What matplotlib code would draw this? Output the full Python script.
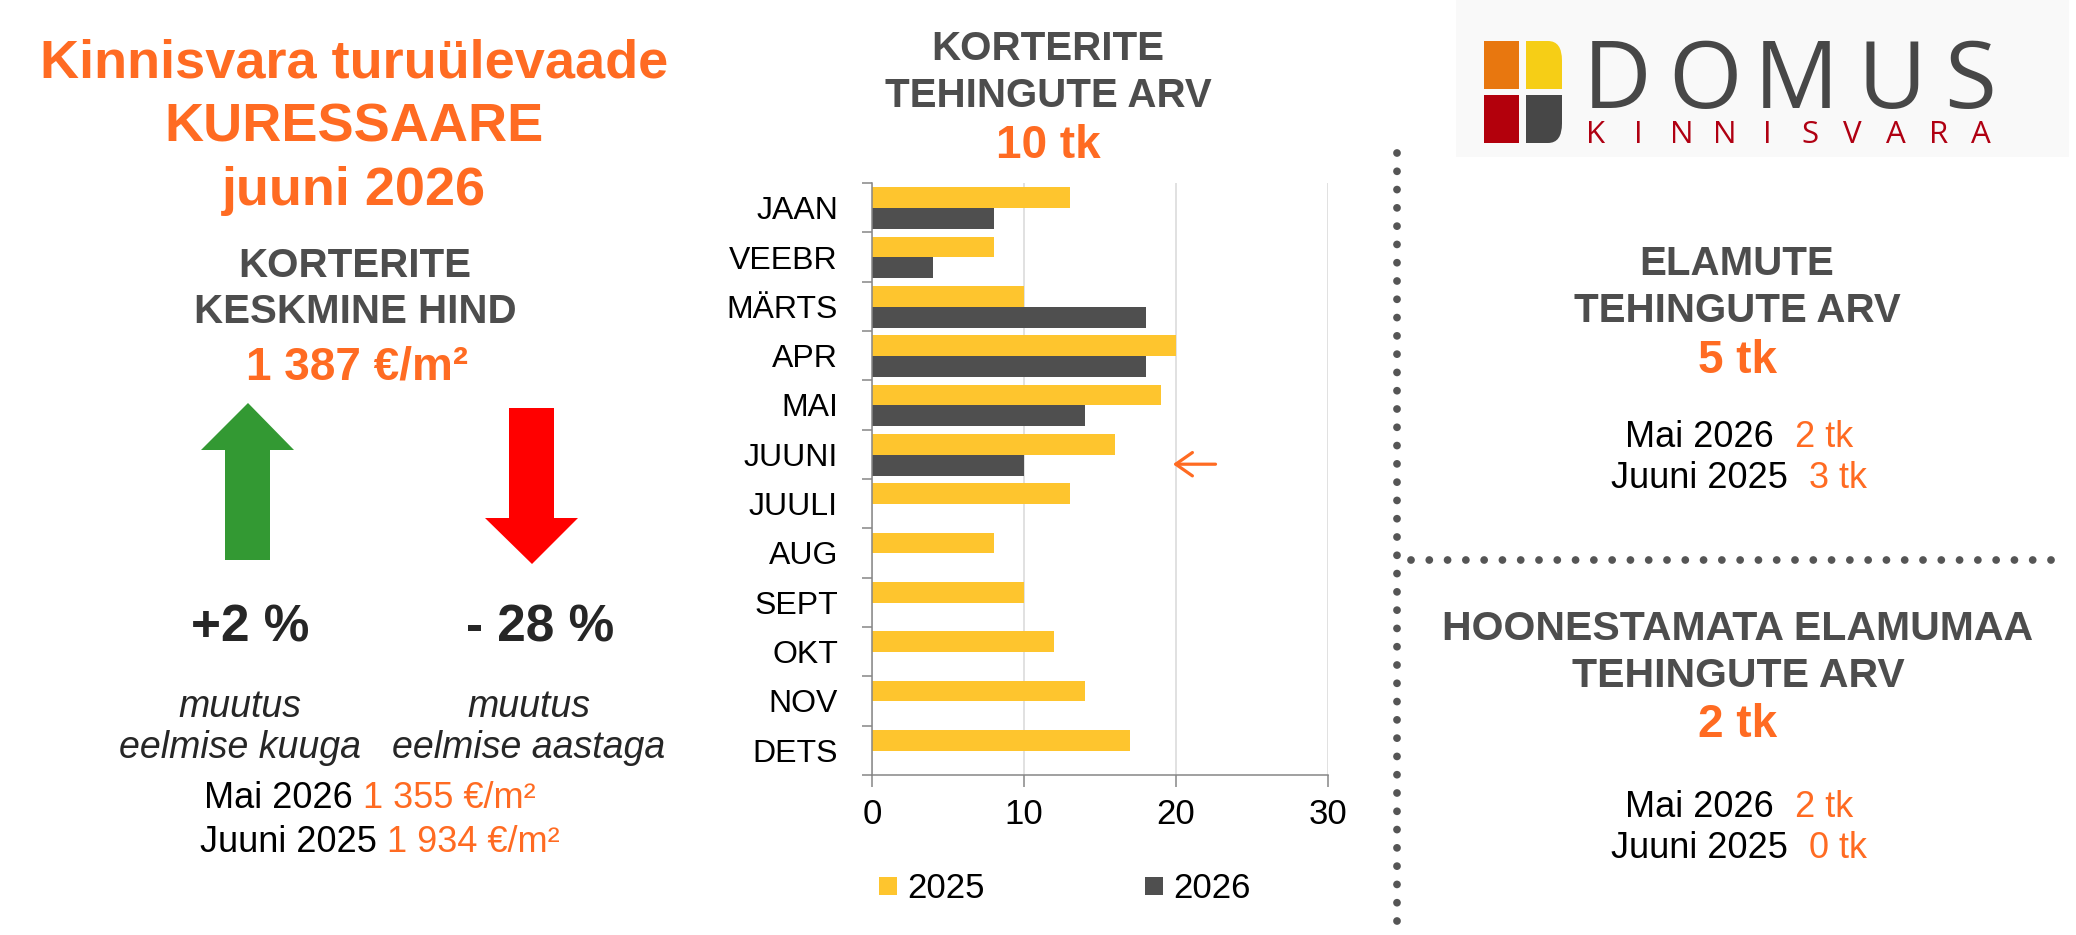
import matplotlib
matplotlib.use("Agg")
import matplotlib.pyplot as plt
from matplotlib.patches import Rectangle, Polygon, PathPatch
from matplotlib.path import Path
import numpy as np

plt.rcParams['font.family'] = ['Liberation Sans', 'DejaVu Sans']

months = ["JAAN", "VEEBR", "MÄRTS", "APR", "MAI", "JUUNI",
          "JUULI", "AUG", "SEPT", "OKT", "NOV", "DETS"]
deals_2025 = [13, 8, 10, 20, 19, 16, 13, 8, 10, 12, 14, 17]
deals_2026 = [8, 4, 18, 18, 14, 10]
series_names = ["2025", "2026"]

ORANGE = "#FF6B22"
GRAY = "#4D4D4D"
YELLOW = "#FEC52E"
DARK = "#4F4F4F"

W, H = 2076, 935
fig = plt.figure(figsize=(W / 100, H / 100), dpi=100)

# background layer in pixel coordinates
bg = fig.add_axes([0, 0, 1, 1])
bg.set_xlim(0, W)
bg.set_ylim(H, 0)
bg.axis("off")

renderer = fig.canvas.get_renderer()


def label(x, y, s, size, color=GRAY, weight="bold", style="normal", family=None):
    kw = {}
    if family:
        kw["family"] = family
    return bg.text(x, y, s, fontsize=size, color=color, weight=weight,
                   style=style, ha="center", va="baseline", **kw)


def mixed(x, y, parts, size, gap_em=0.3):
    texts = []
    for s, c in parts:
        t = bg.text(0, y, s, fontsize=size, color=c, ha="left", va="baseline")
        texts.append(t)
    widths = [t.get_window_extent(renderer).width for t in texts]
    gap = gap_em * size / 0.72
    total = sum(widths) + gap * (len(texts) - 1)
    cur = x - total / 2
    for t, w in zip(texts, widths):
        t.set_x(cur)
        cur += w + gap


# ---- left block
label(354, 78, "Kinnisvara turuülevaade", 39, ORANGE)
label(354, 142, "KURESSAARE", 39, ORANGE)
label(354, 205, "juuni 2026", 39, ORANGE)
label(355, 277, "KORTERITE", 29)
label(355, 323, "KESKMINE HIND", 29)
label(357, 380, "1 387 €/m²", 33, ORANGE)

green_arrow = [(248, 403), (294, 450), (270, 450), (270, 560), (225, 560),
               (225, 450), (201, 450)]
red_arrow = [(509, 408), (554, 408), (554, 518), (578, 518), (532, 564),
             (485, 518), (509, 518)]
bg.add_patch(Polygon(green_arrow, closed=True, color="#339933", lw=0))
bg.add_patch(Polygon(red_arrow, closed=True, color="#FF0000", lw=0))

label(250, 642, "+2 %", 37, "#262626")
label(540, 642, "- 28 %", 37, "#262626")
label(240, 717, "muutus", 27, "#262626", weight="normal", style="italic")
label(240, 758, "eelmise kuuga", 27, "#262626", weight="normal", style="italic")
label(529, 717, "muutus", 27, "#262626", weight="normal", style="italic")
label(529, 758, "eelmise aastaga", 27, "#262626", weight="normal", style="italic")
mixed(370, 808, [("Mai 2026", "black"), ("1 355 €/m²", ORANGE)], 26)
mixed(380, 852, [("Juuni 2025", "black"), ("1 934 €/m²", ORANGE)], 26)

# ---- chart header
label(1048, 60, "KORTERITE", 29)
label(1048, 107, "TEHINGUTE ARV", 29)
label(1048, 158, "10 tk", 33, ORANGE)

# ---- right block
label(1737, 275, "ELAMUTE", 29)
label(1737, 322, "TEHINGUTE ARV", 29)
label(1737, 373, "5 tk", 33, ORANGE)
mixed(1739, 447, [("Mai 2026", "black"), ("2 tk", ORANGE)], 26, 0.6)
mixed(1739, 488, [("Juuni 2025", "black"), ("3 tk", ORANGE)], 26, 0.6)

label(1738, 640, "HOONESTAMATA ELAMUMAA", 29.5)
label(1738, 687, "TEHINGUTE ARV", 29.5)
label(1738, 737, "2 tk", 33, ORANGE)
mixed(1739, 817, [("Mai 2026", "black"), ("2 tk", ORANGE)], 26, 0.6)
mixed(1739, 858, [("Juuni 2025", "black"), ("0 tk", ORANGE)], 26, 0.6)

# dotted separators
dot = dict(color="#555555", lw=5.6, ls=(0, (0.001, 2.35)), dash_capstyle="round")
bg.plot([1397, 1397], [153, 923], **dot)
bg.plot([1411, 2059], [560, 560], **dot)

# ---- logo
bg.add_patch(Rectangle((1456, 0), 613, 157, color="#F9F9F9", lw=0))
bg.add_patch(Rectangle((1484, 41), 35, 48, color="#E8770F", lw=0))
bg.add_patch(Rectangle((1484, 95), 35, 48, color="#B3000C", lw=0))


def rounded(x0, y0, w, h, top, r=14):
    if top:
        verts = [(x0, y0 + h), (x0, y0), (x0 + w - r, y0),
                 (x0 + w, y0), (x0 + w, y0 + r * 1.4), (x0 + w, y0 + h),
                 (x0, y0 + h)]
    else:
        verts = [(x0, y0), (x0 + w, y0), (x0 + w, y0 + h - r * 1.4),
                 (x0 + w, y0 + h), (x0 + w - r, y0 + h), (x0, y0 + h),
                 (x0, y0)]
    codes = [Path.MOVETO, Path.LINETO, Path.LINETO, Path.CURVE3, Path.CURVE3,
             Path.LINETO, Path.CLOSEPOLY]
    return Path(verts, codes)


bg.add_patch(PathPatch(rounded(1526, 41, 36, 48, True), color="#F6CE16", lw=0))
bg.add_patch(PathPatch(rounded(1526, 95, 36, 48, False), color="#474747", lw=0))

for ch, cx in zip("DOMUS", [1617, 1705, 1796, 1892, 1970]):
    bg.text(cx, 108, ch, fontsize=68, color="#474747", ha="center",
            va="baseline", family=["Open Sans", "DejaVu Sans"])
for i, ch in enumerate("KINNISVARA"):
    bg.text(1596 + i * 42.8, 143, ch, fontsize=22.5, color="#B00012",
            ha="center", va="baseline", family=["Open Sans", "DejaVu Sans"])

# ---- bar chart
ax = fig.add_axes([872 / W, 1 - 775 / H, 456 / W, 592 / H])
y = np.arange(len(months))
b1 = ax.barh(y - 0.2, deals_2025, height=0.42, color=YELLOW, zorder=3)
b2 = ax.barh(y[:len(deals_2026)] + 0.22, deals_2026, height=0.42, color=DARK, zorder=3)

ax.set_xlim(0, 30)
ax.set_ylim(len(months) - 0.5, -0.5)
ax.set_xticks([0, 10, 20, 30])
ax.set_yticks(y)
ax.set_yticklabels(months)
ax.set_yticks(np.arange(-0.5, len(months), 1), minor=True)
ax.tick_params(axis="x", labelsize=25, length=8.6, width=1.1, color="#868686", pad=8)
ax.tick_params(axis="y", which="major", labelsize=23, length=0, pad=24.5)
ax.tick_params(axis="y", which="minor", length=7.2, width=1.1, color="#868686")
ax.xaxis.grid(True, color="#D9D9D9", lw=1.1, zorder=0)
ax.set_axisbelow(True)
for s in ["top", "right"]:
    ax.spines[s].set_visible(False)
for s in ["left", "bottom"]:
    ax.spines[s].set_color("#868686")
    ax.spines[s].set_linewidth(1.1)
    ax.spines[s].set_zorder(4)

ax.annotate("", xy=(19.8, 5.2), xytext=(22.6, 5.2),
            arrowprops=dict(arrowstyle="->,head_length=0.6,head_width=0.42",
                            mutation_scale=20, color=ORANGE, lw=2.3,
                            shrinkA=0, shrinkB=0))

fig.legend([b1, b2], series_names, loc="center",
           bbox_to_anchor=(1065 / W, 1 - 889 / H), ncol=2, frameon=False,
           fontsize=25, handlelength=0.52, handleheight=0.42,
           handletextpad=0.3, columnspacing=4.6)

fig.savefig("out.png", dpi=100)
